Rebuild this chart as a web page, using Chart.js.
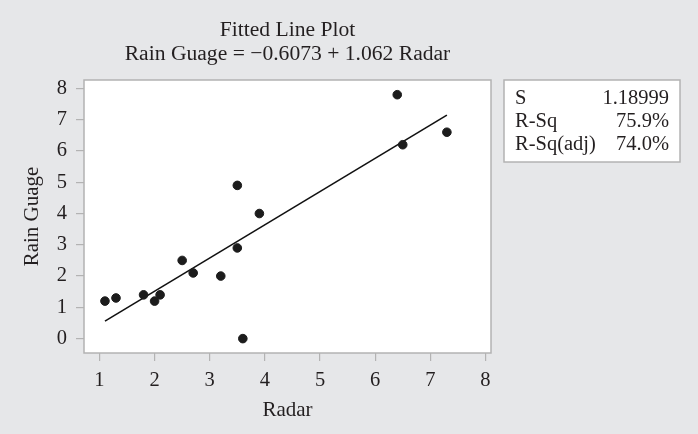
<!DOCTYPE html>
<html>
<head>
<meta charset="utf-8">
<script src="https://cdn.jsdelivr.net/npm/chart.js@4"></script>
<style>
    html, body { margin: 0; padding: 0; background: #e6e7e9; }
    #wrap { width: 698px; height: 434px; position: relative; }
</style>
</head>
<body>
<div id="wrap"><canvas id="fitChart" width="698" height="434"></canvas></div>
<script>
// Fitted line plot - Rain Guage vs Radar

const radar = [1.1, 1.3, 1.8, 2.0, 2.1, 2.5, 2.7, 3.2, 3.5, 3.5, 3.6, 3.9, 6.4, 6.5, 7.3];
const rainGuage = [1.2, 1.3, 1.4, 1.2, 1.4, 2.5, 2.1, 2.0, 2.9, 4.9, 0.0, 4.0, 7.8, 6.2, 6.6];

// regression from the title
const intercept = -0.6073;
const slope = 1.062;
const fitRange = [1.1, 7.3];

const titleLines = ['Fitted Line Plot', 'Rain Guage = \u22120.6073 + 1.062 Radar'];
const statLabels = ['S', 'R-Sq', 'R-Sq(adj)'];
const statValues = ['1.18999', '75.9%', '74.0%'];

const xTicks = [1, 2, 3, 4, 5, 6, 7, 8];
const yTicks = [0, 1, 2, 3, 4, 5, 6, 7, 8];

const FONT = '"Liberation Serif", "Times New Roman", serif';
const BG = '#e6e7e9';
const FRAME = '#b3b3b3';
const INK = '#231f20';

// background, white plot area, frame, title and stats box
const framePlugin = {
    id: 'frame',
    beforeDraw(chart) {
        const { ctx, chartArea: a } = chart;
        ctx.save();
        ctx.fillStyle = BG;
        ctx.fillRect(0, 0, chart.width, chart.height);
        ctx.fillStyle = '#ffffff';
        ctx.fillRect(a.left, a.top, a.right - a.left, a.bottom - a.top);
        ctx.restore();
    },
    afterDraw(chart) {
        const { ctx, chartArea: a } = chart;
        ctx.save();
        ctx.strokeStyle = FRAME;
        ctx.lineWidth = 1.5;
        ctx.strokeRect(a.left, a.top, a.right - a.left, a.bottom - a.top);

        // title
        ctx.fillStyle = INK;
        ctx.font = '21.6px ' + FONT;
        ctx.textAlign = 'center';
        ctx.textBaseline = 'alphabetic';
        const cx = (a.left + a.right) / 2;
        ctx.fillText(titleLines[0], cx, 36);
        ctx.fillText(titleLines[1], cx, 60);

        // stats box
        const bx = 504, by = a.top, bw = 176, bh = 82;
        ctx.fillStyle = '#ffffff';
        ctx.fillRect(bx, by, bw, bh);
        ctx.strokeRect(bx, by, bw, bh);
        ctx.fillStyle = INK;
        ctx.font = '20.5px ' + FONT;
        statLabels.forEach((lbl, i) => {
            const y = 104 + i * 23;
            ctx.textAlign = 'left';
            ctx.fillText(lbl, 515, y);
            ctx.textAlign = 'right';
            ctx.fillText(statValues[i], 669, y);
        });
        ctx.restore();
    }
};

const fitLine = fitRange.map(x => ({ x: x, y: intercept + slope * x }));

new Chart(document.getElementById('fitChart'), {
    type: 'scatter',
    data: {
        datasets: [
            {
                label: 'Rain Guage',
                data: radar.map((x, i) => ({ x: x, y: rainGuage[i] })),
                backgroundColor: '#1c1c1c',
                borderColor: '#1c1c1c',
                pointRadius: 4.3,
                pointHoverRadius: 4.3
            },
            {
                label: 'Fit',
                type: 'line',
                data: fitLine,
                borderColor: '#111111',
                borderWidth: 1.6,
                pointRadius: 0,
                fill: false
            }
        ]
    },
    options: {
        responsive: false,
        animation: false,
        events: [],
        layout: { padding: { top: 80, right: 207, left: 0, bottom: 0 } },
        plugins: {
            legend: { display: false },
            title: { display: false },
            tooltip: { enabled: false }
        },
        scales: {
            x: {
                type: 'linear',
                min: 0.72,
                max: 8.1,
                afterFit: s => { s.height = 81; },
                afterBuildTicks: s => { s.ticks = xTicks.map(v => ({ value: v })); },
                border: { display: false },
                grid: { drawOnChartArea: false, drawTicks: true, tickLength: 8, color: FRAME, lineWidth: 1.2 },
                ticks: { color: INK, font: { family: FONT, size: 20.5 }, padding: 7, maxRotation: 0 },
                title: { display: true, text: 'Radar', color: INK, font: { family: FONT, size: 21 }, padding: { top: 0, bottom: 11 } }
            },
            y: {
                type: 'linear',
                min: -0.46,
                max: 8.27,
                afterFit: s => { s.width = 84; },
                afterBuildTicks: s => { s.ticks = yTicks.map(v => ({ value: v })); },
                border: { display: false },
                grid: { drawOnChartArea: false, drawTicks: true, tickLength: 8, color: FRAME, lineWidth: 1.2 },
                ticks: { color: INK, font: { family: FONT, size: 20.5 }, padding: 9 },
                title: { display: true, text: 'Rain Guage', color: INK, font: { family: FONT, size: 21 }, padding: { top: 20, bottom: 0 } }
            }
        }
    },
    plugins: [framePlugin]
});
</script>
</body>
</html>
